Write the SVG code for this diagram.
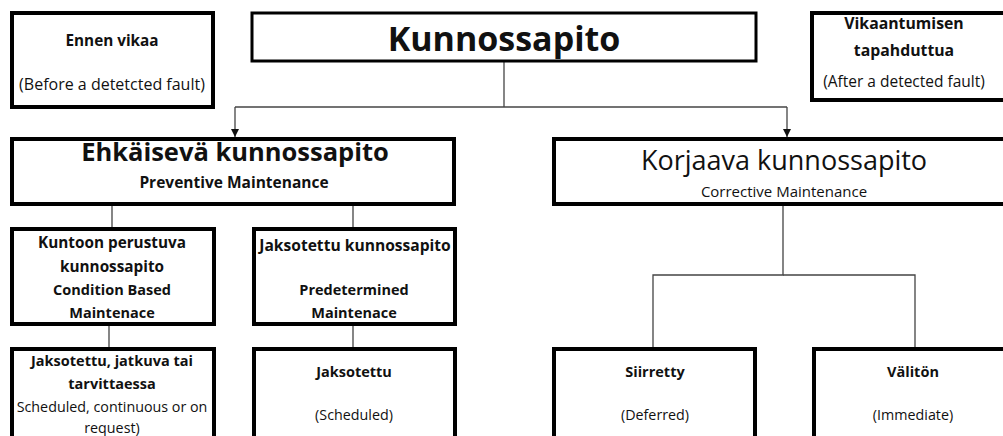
<svg xmlns="http://www.w3.org/2000/svg" width="1003" height="436" viewBox="0 0 1003 436">
<defs>
<marker id="arr" viewBox="0 0 10 10" refX="10" refY="5" markerWidth="8" markerHeight="8" markerUnits="userSpaceOnUse" orient="auto">
<path d="M0,0 L10,5 L0,10 z" fill="#111"/>
</marker>
<style>
.box{fill:#fff;stroke:#000;stroke-width:4}
.conn{fill:none;stroke:#444;stroke-width:1.3}
text{font-family:"Open Sans","Liberation Sans",sans-serif;fill:#111;text-anchor:middle}
.b{font-weight:bold;font-size:14.5px}
.n{font-size:14.3px}
</style>
</defs>
<rect width="1003" height="436" fill="#fff"/>
<g id="connectors">
<line class="conn" x1="504" y1="62" x2="504" y2="107"/>
<line class="conn" x1="235" y1="107" x2="787" y2="107"/>
<line class="conn" x1="235" y1="107" x2="235" y2="137" marker-end="url(#arr)"/>
<line class="conn" x1="787" y1="107" x2="787" y2="137" marker-end="url(#arr)"/>
<line class="conn" x1="112" y1="205" x2="112" y2="227"/>
<line class="conn" x1="353" y1="205" x2="353" y2="227"/>
<line class="conn" x1="109" y1="325" x2="109" y2="347"/>
<line class="conn" x1="353" y1="325" x2="353" y2="347"/>
<polyline class="conn" points="783,205 783,275 653,275 653,347"/>
<polyline class="conn" points="783,275 915,275 915,347"/>
</g>
<g id="ennen">
<rect class="box" x="12" y="13" width="201" height="94"/>
<text class="b" x="112" y="46" style="font-size:15.3px">Ennen vikaa</text>
<text class="n" x="112" y="90" style="font-size:16px">(Before a detetcted fault)</text>
</g>
<g id="kunnossapito">
<rect class="box" x="252" y="13" width="504" height="48" style="stroke-width:3"/>
<text x="504" y="51" style="font-weight:bold;font-size:34px">Kunnossapito</text>
</g>
<g id="vikaantumisen">
<rect class="box" x="812" y="13" width="200" height="87"/>
<text class="b" x="904" y="29" style="font-size:15.8px">Vikaantumisen</text>
<text class="b" x="904" y="56" style="font-size:15.8px">tapahduttua</text>
<text class="n" x="904" y="87" style="font-size:15.5px">(After a detected fault)</text>
</g>
<g id="ehkaiseva">
<rect class="box" x="12" y="139" width="442" height="65"/>
<text x="235" y="161" style="font-weight:bold;font-size:25.5px">Ehkäisevä kunnossapito</text>
<text class="b" x="234" y="188" style="font-size:15.5px">Preventive Maintenance</text>
</g>
<g id="korjaava">
<rect class="box" x="554" y="139" width="460" height="65"/>
<text x="784" y="170" style="font-size:27px">Korjaava kunnossapito</text>
<text class="n" x="784" y="197" style="font-size:15px">Corrective Maintenance</text>
</g>
<g id="kuntoon">
<rect class="box" x="12" y="229" width="202" height="95"/>
<text class="b" x="112" y="248" style="font-size:15.3px">Kuntoon perustuva</text>
<text class="b" x="112" y="272" style="font-size:15.3px">kunnossapito</text>
<text class="b" x="112" y="295">Condition Based</text>
<text class="b" x="112" y="318">Maintenace</text>
</g>
<g id="jaksotettu-kp">
<rect class="box" x="254" y="229" width="201" height="95"/>
<text class="b" x="355" y="251" style="font-size:15.6px">Jaksotettu kunnossapito</text>
<text class="b" x="354" y="295">Predetermined</text>
<text class="b" x="354" y="318">Maintenace</text>
</g>
<g id="jatkuva">
<rect class="box" x="12" y="349" width="202" height="100"/>
<text class="b" x="112" y="366">Jaksotettu, jatkuva tai</text>
<text class="b" x="112" y="389">tarvittaessa</text>
<text class="n" x="112" y="412">Scheduled, continuous or on</text>
<text class="n" x="112" y="433">request)</text>
</g>
<g id="jaksotettu">
<rect class="box" x="254" y="349" width="201" height="100"/>
<text class="b" x="354" y="377">Jaksotettu</text>
<text class="n" x="354" y="420">(Scheduled)</text>
</g>
<g id="siirretty">
<rect class="box" x="554" y="349" width="201" height="100"/>
<text class="b" x="655" y="377">Siirretty</text>
<text class="n" x="655" y="420">(Deferred)</text>
</g>
<g id="valiton">
<rect class="box" x="814" y="349" width="200" height="100"/>
<text class="b" x="913" y="377">Välitön</text>
<text class="n" x="913" y="420">(Immediate)</text>
</g>
</svg>
